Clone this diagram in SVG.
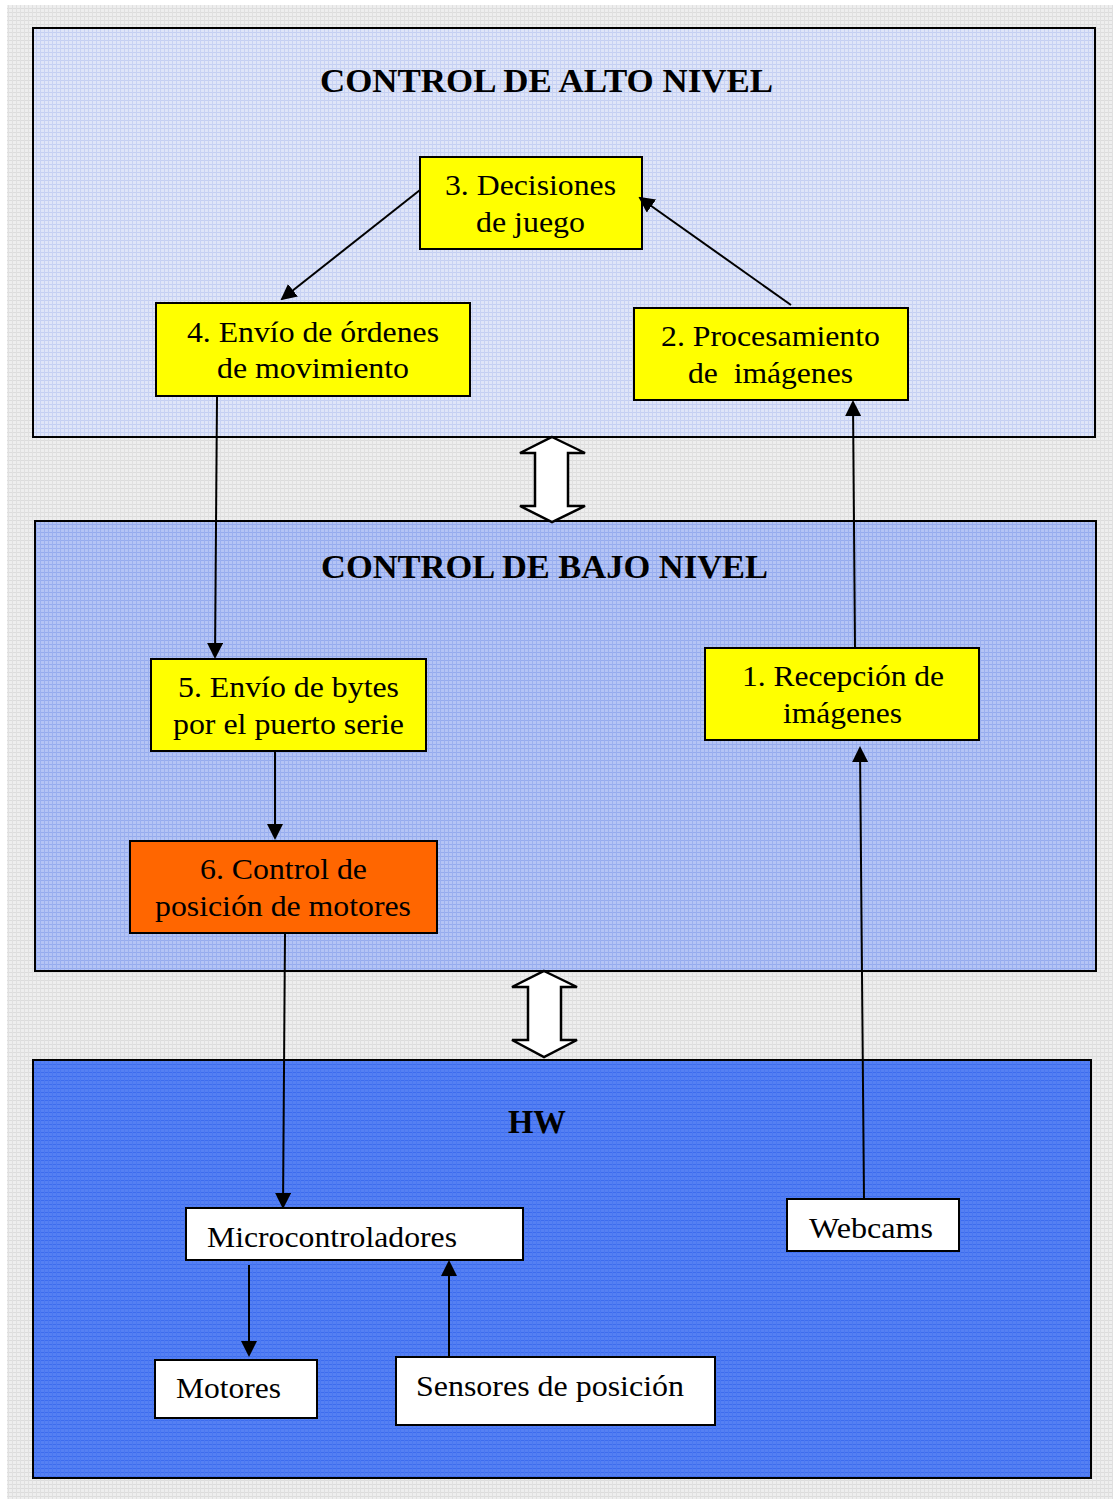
<svg xmlns="http://www.w3.org/2000/svg" width="1118" height="1504" viewBox="0 0 1118 1504">
<style>
.panel{stroke:#000;stroke-width:2}
.node{stroke:#000;stroke-width:2}
.yellow{fill:#ffff00}
.orange{fill:#ff6600}
.white{fill:#ffffff}
.t{font-family:"Liberation Serif","Times New Roman",serif;font-size:30px;fill:#000}
.title{font-family:"Liberation Serif","Times New Roman",serif;font-size:33px;font-weight:bold;fill:#000}
.conn{stroke:#000;stroke-width:2;fill:none;marker-end:url(#ah)}
.dbl{fill:#fff;stroke:#000;stroke-width:2.5;stroke-linejoin:miter}
</style>
<defs>
<marker id="ah" markerWidth="8" markerHeight="8" refX="7" refY="4" orient="auto" markerUnits="strokeWidth">
<path d="M0,0 L8,4 L0,8 z" fill="#000"/>
</marker>
<pattern id="pbg" width="4" height="4" patternUnits="userSpaceOnUse">
<rect width="4" height="4" fill="#eeeeee"/>
<rect width="4" height="1" fill="#dcdcdc"/>
<rect width="1" height="4" fill="#e0e0e0"/>
</pattern>
<pattern id="ptop" width="4" height="4" patternUnits="userSpaceOnUse">
<rect width="4" height="4" fill="#dfe5f8"/>
<rect width="4" height="1" fill="#c4cff2"/>
<rect width="1" height="4" fill="#c8d2f3"/>
</pattern>
<pattern id="pmid" width="4" height="4" patternUnits="userSpaceOnUse">
<rect width="4" height="4" fill="#b4c4f5"/>
<rect width="4" height="1" fill="#95abee"/>
<rect width="1" height="4" fill="#9bb0ef"/>
</pattern>
<pattern id="pbot" width="4" height="4" patternUnits="userSpaceOnUse">
<rect width="4" height="4" fill="#5580f3"/>
<rect width="4" height="1" fill="#3d6cee"/>
<rect width="1" height="4" fill="#4a78f2"/>
</pattern>
</defs>
<rect x="0" y="0" width="1118" height="1504" fill="#ffffff"/>
<rect x="7" y="5" width="1106" height="1494" fill="url(#pbg)"/>

<g id="panel-alto">
<rect class="panel" x="33" y="28" width="1062" height="409" fill="url(#ptop)"/>
<text class="title" x="320" y="92" textLength="453" lengthAdjust="spacingAndGlyphs">CONTROL DE ALTO NIVEL</text>
</g>
<g id="panel-bajo">
<rect class="panel" x="35" y="521" width="1061" height="450" fill="url(#pmid)"/>
<text class="title" x="321" y="578" textLength="447" lengthAdjust="spacingAndGlyphs">CONTROL DE BAJO NIVEL</text>
</g>
<g id="panel-hw">
<rect class="panel" x="33" y="1060" width="1058" height="418" fill="url(#pbot)"/>
<text class="title" x="508" y="1133" textLength="58" lengthAdjust="spacingAndGlyphs">HW</text>
</g>

<g id="dbl-arrow-1">
<path class="dbl" d="M552,437 L585,453 L568,453 L568,506 L585,506 L552,522 L520,506 L535,506 L535,453 L520,453 Z"/>
</g>
<g id="dbl-arrow-2">
<path class="dbl" d="M544,971 L577,987 L561,987 L561,1040 L577,1040 L544,1057 L512,1040 L528,1040 L528,987 L512,987 Z"/>
</g>

<g id="n3">
<rect class="node yellow" x="420" y="157" width="222" height="92"/>
<text class="t" x="445" y="195" textLength="171" lengthAdjust="spacingAndGlyphs">3. Decisiones</text>
<text class="t" x="476" y="232" textLength="109" lengthAdjust="spacingAndGlyphs">de juego</text>
</g>
<g id="n4">
<rect class="node yellow" x="156" y="303" width="314" height="93"/>
<text class="t" x="187" y="342" textLength="252" lengthAdjust="spacingAndGlyphs">4. Envío de órdenes</text>
<text class="t" x="217" y="378" textLength="192" lengthAdjust="spacingAndGlyphs">de movimiento</text>
</g>
<g id="n2">
<rect class="node yellow" x="634" y="308" width="274" height="92"/>
<text class="t" x="661" y="346" textLength="219" lengthAdjust="spacingAndGlyphs">2. Procesamiento</text>
<text class="t" x="688" y="383" textLength="165" lengthAdjust="spacingAndGlyphs" xml:space="preserve">de  imágenes</text>
</g>
<g id="n5">
<rect class="node yellow" x="151" y="659" width="275" height="92"/>
<text class="t" x="178" y="697" textLength="221" lengthAdjust="spacingAndGlyphs">5. Envío de bytes</text>
<text class="t" x="173" y="734" textLength="231" lengthAdjust="spacingAndGlyphs">por el puerto serie</text>
</g>
<g id="n1">
<rect class="node yellow" x="705" y="648" width="274" height="92"/>
<text class="t" x="742" y="686" textLength="202" lengthAdjust="spacingAndGlyphs">1. Recepción de</text>
<text class="t" x="783" y="723" textLength="119" lengthAdjust="spacingAndGlyphs">imágenes</text>
</g>
<g id="n6">
<rect class="node orange" x="130" y="841" width="307" height="92"/>
<text class="t" x="200" y="879" textLength="167" lengthAdjust="spacingAndGlyphs">6. Control de</text>
<text class="t" x="155" y="916" textLength="256" lengthAdjust="spacingAndGlyphs">posición de motores</text>
</g>
<g id="n-micro">
<rect class="node white" x="186" y="1208" width="337" height="52"/>
<text class="t" x="207" y="1247" textLength="250" lengthAdjust="spacingAndGlyphs">Microcontroladores</text>
</g>
<g id="n-webcams">
<rect class="node white" x="787" y="1199" width="172" height="52"/>
<text class="t" x="809" y="1238" textLength="124" lengthAdjust="spacingAndGlyphs">Webcams</text>
</g>
<g id="n-motores">
<rect class="node white" x="155" y="1360" width="162" height="58"/>
<text class="t" x="176" y="1398" textLength="105" lengthAdjust="spacingAndGlyphs">Motores</text>
</g>
<g id="n-sensores">
<rect class="node white" x="396" y="1357" width="319" height="68"/>
<text class="t" x="416" y="1396" textLength="268" lengthAdjust="spacingAndGlyphs">Sensores de posición</text>
</g>

<g id="connectors">
<line class="conn" x1="420" y1="190" x2="282" y2="299"/>
<line class="conn" x1="791" y1="305" x2="640" y2="198"/>
<line class="conn" x1="217" y1="397" x2="215" y2="657"/>
<line class="conn" x1="855" y1="648" x2="853" y2="402"/>
<line class="conn" x1="275" y1="752" x2="275" y2="838"/>
<line class="conn" x1="285" y1="934" x2="283" y2="1207"/>
<line class="conn" x1="864" y1="1199" x2="860" y2="748"/>
<line class="conn" x1="249" y1="1265" x2="249" y2="1355"/>
<line class="conn" x1="449" y1="1357" x2="449" y2="1262"/>
</g>
</svg>
